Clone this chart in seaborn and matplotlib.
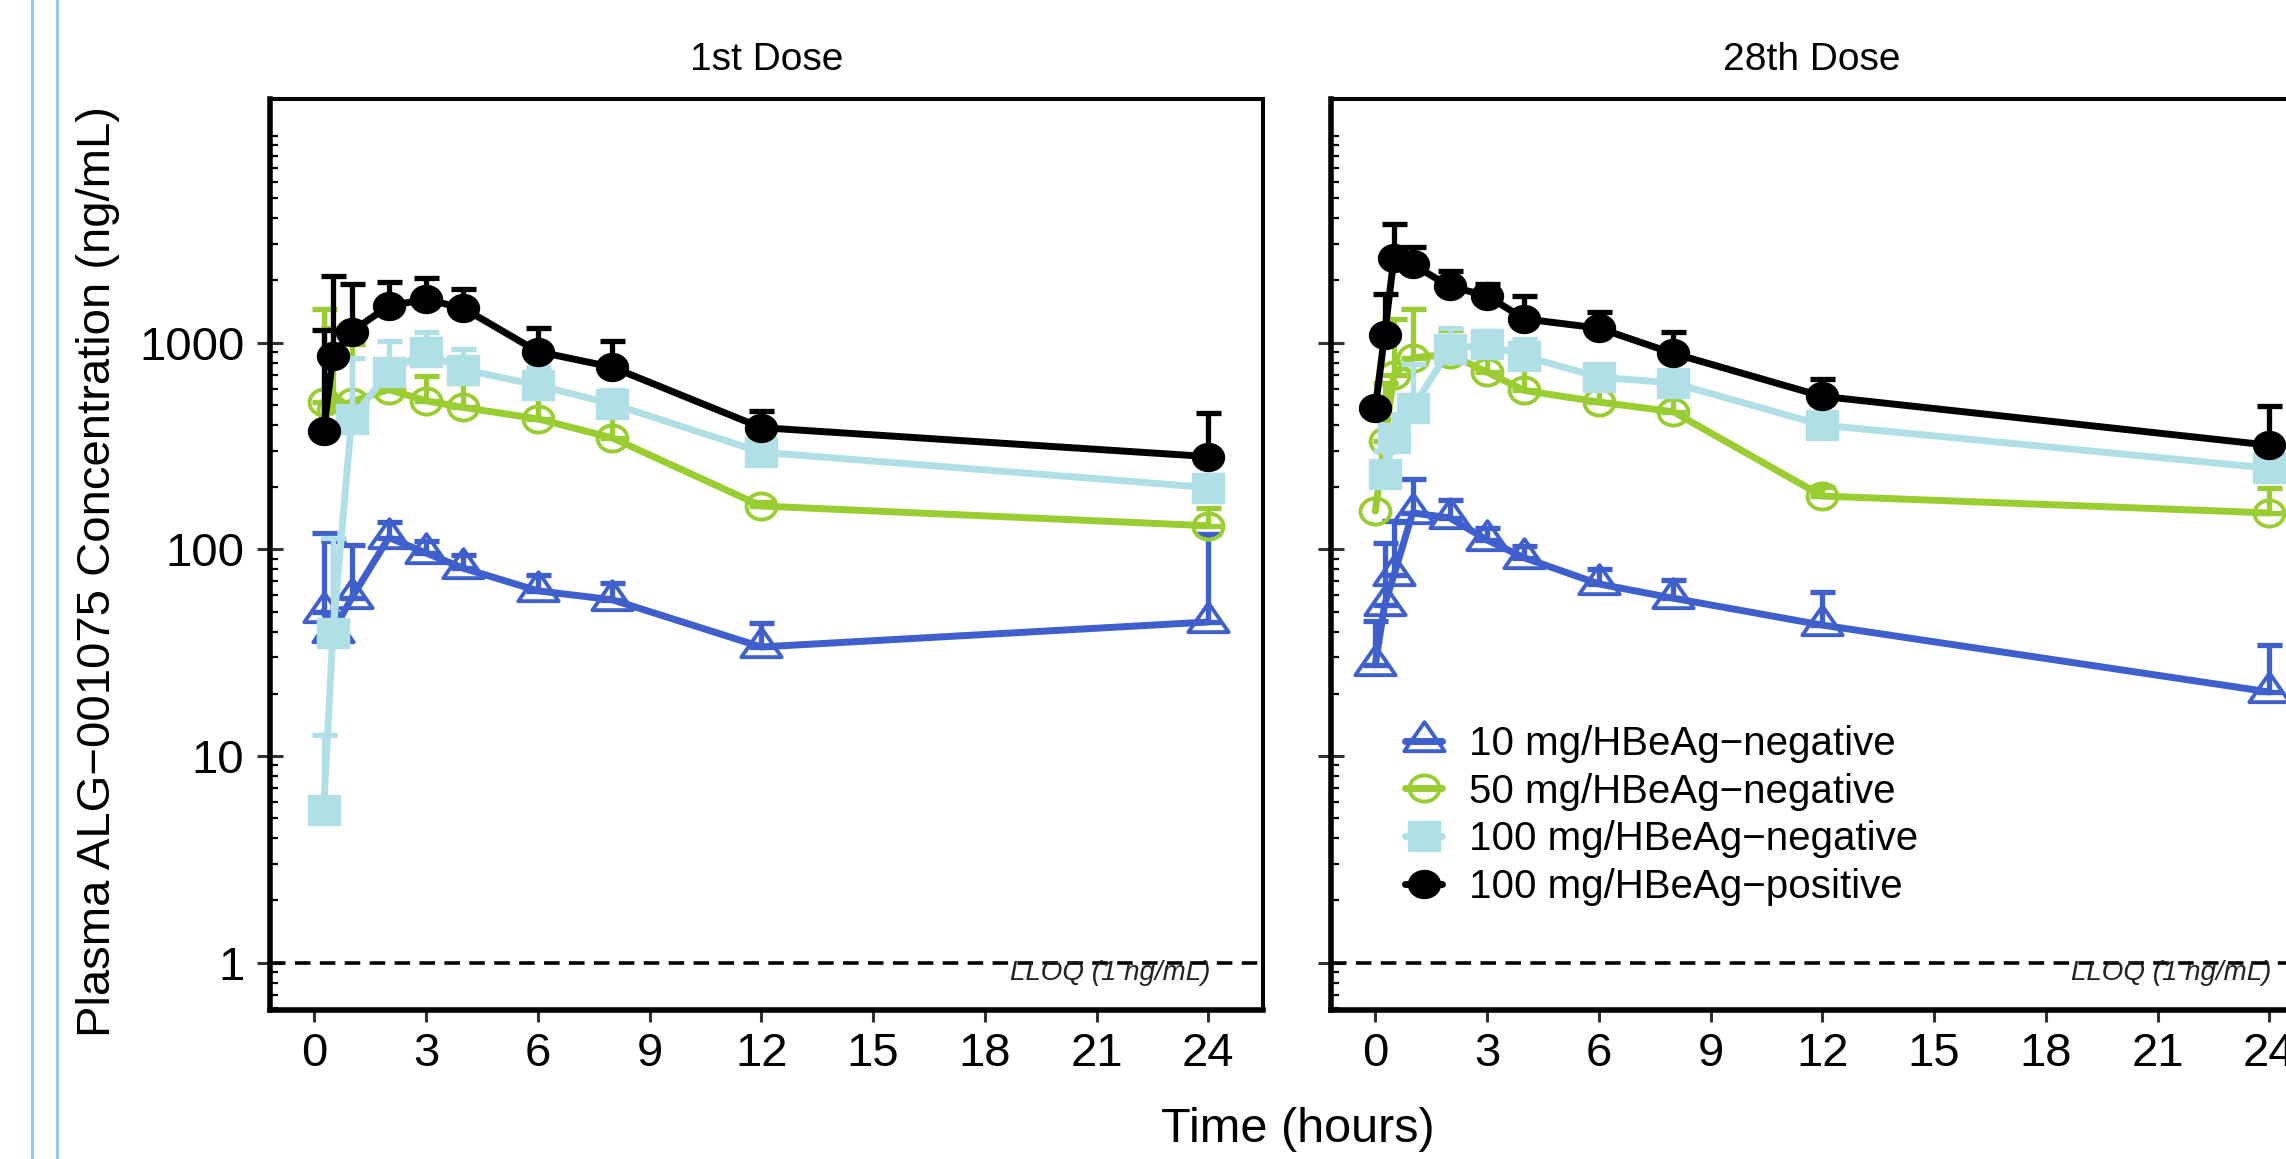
import numpy as np
import pandas as pd
import matplotlib
matplotlib.use('Agg')
import matplotlib.pyplot as plt
import seaborn as sns
from matplotlib.lines import Line2D
from matplotlib.path import Path
from matplotlib.transforms import Affine2D
from matplotlib.ticker import FixedLocator, LogLocator, NullFormatter

# ---- data ----
series_labels = ['10 mg/HBeAg\u2212negative', '50 mg/HBeAg\u2212negative',
                 '100 mg/HBeAg\u2212negative', '100 mg/HBeAg\u2212positive']
panel_titles = ['1st Dose', '28th Dose']

# 1st dose
t_d1 = [0.25, 0.5, 1, 2, 3, 4, 6, 8, 12, 24]
d1_10neg = [50, 40, 58, 114, 96, 81, 63, 57, 33.7, 44.5]
d1_10neg_up = [120, 110, 105, 136, 110, 94, 75, 69, 44, 119]
d1_50neg = [518, 470, 518, 593, 523, 486, 428, 346, 162, 130]
d1_50neg_up = [1452, 1183, 982, 761, 688, 638, 550, 467, 170, 158]
d1_100neg = [5.5, 39.3, 425, 725, 897, 741, 622, 505, 295, 199]
d1_100neg_up = [12.6, 113, 847, 1019, 1132, 928, 760, 590, 343, 230]
d1_100pos = [374, 863, 1132, 1507, 1620, 1468, 905, 761, 388, 281]
d1_100pos_up = [1145, 2110, 1919, 1955, 2055, 1818, 1179, 1015, 467, 458]

# 28th dose
t_d28 = [0, 0.25, 0.5, 1, 2, 3, 4, 6, 8, 12, 24]
t_d28_100neg = [0.25, 0.5, 1, 2, 3, 4, 6, 8, 12, 24]
d28_10neg = [27.6, 54, 75, 150, 142, 111, 91, 68, 58, 43, 20.4]
d28_10neg_up = [45, 107, 137, 220, 174, 127, 104, 80, 71, 62, 34.4]
d28_50neg = [153, 335, 700, 845, 879, 720, 587, 516, 463, 181, 150]
d28_50neg_up = [np.nan, 641, 1298, 1455, 1150, 980, 791, 681, 625, 201, 197]
d28_100neg = [231, 345, 482, 930, 980, 861, 681, 638, 399, 247]
d28_100neg_up = [300, 450, 785, 1183, 1142, 1044, 770, 727, 504, 290]
d28_100pos = [481, 1095, 2575, 2390, 1870, 1686, 1303, 1176, 887, 550, 319]
d28_100pos_up = [np.nan, 1718, 3750, 2911, 2212, 1919, 1685, 1408, 1127, 667, 496]

y_ticks = [1, 10, 100, 1000]
y_tick_labels = ['1', '10', '100', '1000']
x_ticks = [0, 3, 6, 9, 12, 15, 18, 21, 24]
lloq = 1

# ---- style ----
sns.set_theme(style='ticks')
plt.rcParams['font.family'] = ['Liberation Sans', 'DejaVu Sans']
plt.rcParams['text.color'] = 'black'
plt.rcParams['xtick.labelcolor'] = 'black'
plt.rcParams['ytick.labelcolor'] = 'black'

colors = ['#3f5fcd', '#9acd32', '#b0e0e6', '#000000']

# markers slightly wider than tall, like the reference
tri_path = Path([(0, 0.96), (-1, -0.48), (1, -0.48), (0, 0.96)],
                [Path.MOVETO, Path.LINETO, Path.LINETO, Path.CLOSEPOLY])
ell_path = Affine2D().scale(1, 0.875).transform_path(Path.unit_circle())
sq_path = Path([(-1, -0.93), (1, -0.93), (1, 0.93), (-1, 0.93), (-1, -0.93)],
               [Path.MOVETO, Path.LINETO, Path.LINETO, Path.LINETO, Path.CLOSEPOLY])
markers = [tri_path, ell_path, sq_path, ell_path]
marker_sizes = [29, 21.5, 23.5, 23]
filled = [False, False, True, True]
edge_w = [2.8, 2.8, 1, 1]

panels = [
    [(t_d1, d1_10neg, d1_10neg_up), (t_d1, d1_50neg, d1_50neg_up),
     (t_d1, d1_100neg, d1_100neg_up), (t_d1, d1_100pos, d1_100pos_up)],
    [(t_d28, d28_10neg, d28_10neg_up), (t_d28, d28_50neg, d28_50neg_up),
     (t_d28_100neg, d28_100neg, d28_100neg_up), (t_d28, d28_100pos, d28_100pos_up)],
]

W, H = 2286, 1159
fig = plt.figure(figsize=(W / 100, H / 100), dpi=100)

# page margin rules at the left of the original screenshot
for xpx in [32, 57]:
    fig.add_artist(Line2D([xpx / W, xpx / W], [0, 1], transform=fig.transFigure,
                          color='#86cbea', lw=2.0))

ax_w = 993 / W
ax_h = 911 / H
ax_b = 1 - 1010 / H
ax_lefts = [270 / W, 1331 / W]
title_x = [0.5, 0.484]

for p, (series, left) in enumerate(zip(panels, ax_lefts)):
    ax = fig.add_axes([left, ax_b, ax_w, ax_h])
    for i, (t, v, up) in enumerate(series):
        t = np.asarray(t, float)
        v = np.asarray(v, float)
        up = np.asarray(up, float)
        ok = ~np.isnan(up)
        ax.errorbar(t[ok], v[ok], yerr=[np.zeros(ok.sum()), up[ok] - v[ok]],
                    fmt='none', ecolor=colors[i], elinewidth=3.8,
                    capsize=9, capthick=3.8)
        sns.lineplot(x=t, y=v, ax=ax, color=colors[i], linewidth=5.0,
                     marker=markers[i], markersize=marker_sizes[i],
                     markerfacecolor=colors[i] if filled[i] else 'none',
                     markeredgecolor=colors[i], markeredgewidth=edge_w[i],
                     errorbar=None,
                     label=series_labels[i] if p == 1 else None)

    ax.axhline(lloq, color='black', lw=2.6, dashes=(4.3, 2.6), zorder=1)
    ax.text(24.05, 0.895, 'LLOQ (1 ng/mL)', ha='right', va='center',
            fontsize=20, style='italic', color='#222222')

    ax.set_yscale('log')
    ax.set_ylim(0.59, 15100)
    ax.set_xlim(-1.19, 25.47)
    ax.yaxis.set_major_locator(FixedLocator(y_ticks))
    ax.yaxis.set_minor_locator(LogLocator(base=10, subs=np.arange(1, 10), numticks=60))
    ax.yaxis.set_minor_formatter(NullFormatter())
    if p == 0:
        ax.set_yticklabels(y_tick_labels)
    else:
        ax.set_yticklabels([])
    ax.set_xticks(x_ticks)
    ax.set_xticklabels([str(x) for x in x_ticks])
    ax.set_xlabel('')
    ax.set_ylabel('')

    ax.tick_params(axis='y', which='major', direction='inout', length=19, width=2.2,
                   color='#333333', labelsize=34, pad=9, left=True)
    ax.tick_params(axis='y', which='minor', direction='in', length=5.8, width=1.6,
                   color='black', left=True)
    ax.tick_params(axis='x', which='major', direction='out', length=8.6, width=2.2,
                   color='#333333', labelsize=34, pad=7, bottom=True)
    ax.tick_params(axis='x', which='minor', bottom=False)

    for side in ['left', 'bottom']:
        ax.spines[side].set_linewidth(4.0)
        ax.spines[side].set_color('black')
    for side in ['top', 'right']:
        ax.spines[side].set_visible(True)
        ax.spines[side].set_linewidth(2.9)
        ax.spines[side].set_color('black')

    ax.text(title_x[p], 1 + 39 / 911, panel_titles[p], transform=ax.transAxes,
            ha='center', va='center', fontsize=28)

    if p == 1:
        ax.legend(loc='upper left', bbox_to_anchor=(0.075, 0.313), frameon=False,
                  fontsize=29, handlelength=0.9, handletextpad=0.67,
                  labelspacing=0.24, borderpad=0, borderaxespad=0, numpoints=1)
    else:
        leg = ax.get_legend()
        if leg is not None:
            leg.remove()

fig.text(1298 / W, 1 - 1130 / H, 'Time (hours)', ha='center', va='center', fontsize=35)
fig.text(98 / W, 1 - 572 / H, 'Plasma ALG\u2212001075 Concentration (ng/mL)',
         rotation=90, ha='center', va='center', fontsize=34)

fig.savefig('out.png', dpi=100, facecolor='white')
